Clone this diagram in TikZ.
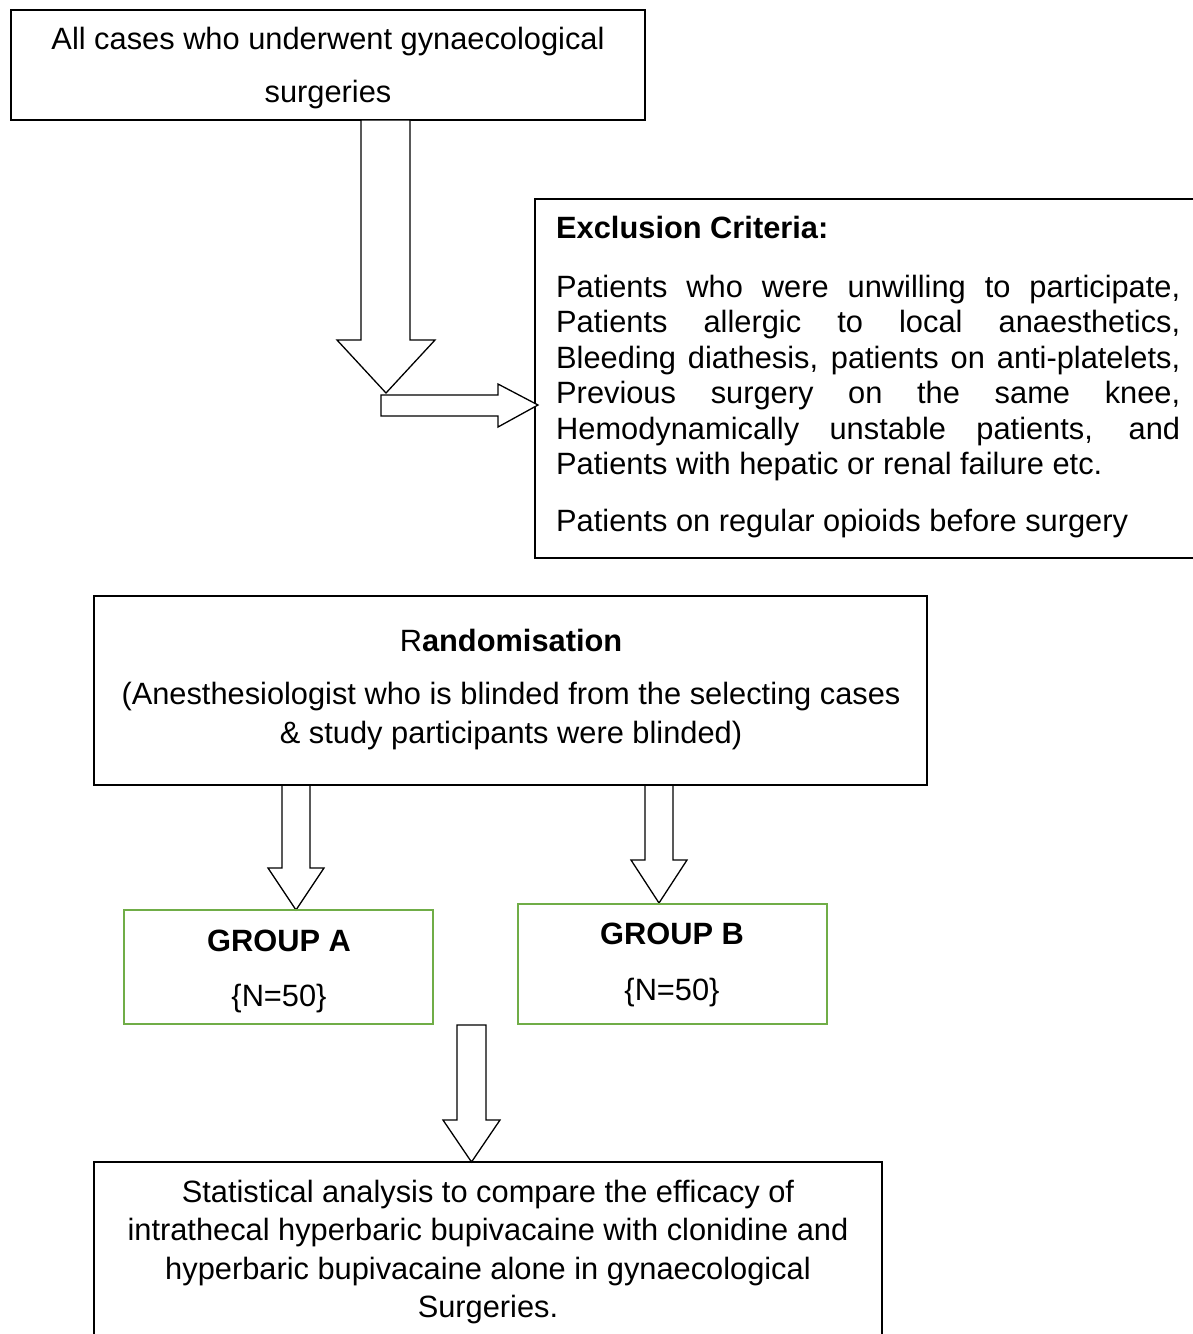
\documentclass[tikz,border=0pt]{standalone}
\usepackage{fontspec}
\setmainfont{Liberation Sans}
\definecolor{grn}{RGB}{112,173,71}
\newcommand\fsz{\fontsize{30.8}{35.5}\selectfont}
\begin{document}
\begin{tikzpicture}[x=1pt,y=-1pt,
  box/.style={draw, line width=1.3pt, inner sep=0pt},
  gbox/.style={draw=grn, line width=2.2pt, inner sep=0pt, minimum width=309pt},
  arr/.style={draw, line width=1.3pt, fill=white, line join=miter},
  edge/.style={draw, line width=1.3pt},
  txt/.style={inner sep=0pt, anchor=base, font=\fsz}]
\useasboundingbox[fill=white] (0,0) rectangle (1193,1334);

% top box
\node[box, minimum width=634pt, minimum height=110pt] (top) at (328,65) {};
\node[txt] (toptext) at (328,49) {\parbox[t]{620pt}{\centering\fontsize{30.8}{53}\selectfont All cases who underwent gynaecological\\surgeries}};

% exclusion box (open on the right)
\coordinate (exne) at (1195,199);
\coordinate (exnw) at (535,199);
\coordinate (exsw) at (535,558);
\coordinate (exse) at (1195,558);
\draw[edge] (exne) -- (exnw) -- (exsw) -- (exse);
\node[txt, anchor=base west] (extitle) at (556,238) {\textbf{Exclusion Criteria:}};
\node[txt, anchor=base west] (exbody) at (556,297) {\parbox[t]{624pt}{\fsz
\makebox[624pt][s]{Patients who were unwilling to participate,}\\
\makebox[624pt][s]{Patients allergic to local anaesthetics,}\\
\makebox[624pt][s]{Bleeding diathesis, patients on anti-platelets,}\\
\makebox[624pt][s]{Previous surgery on the same knee,}\\
\makebox[624pt][s]{Hemodynamically unstable patients, and}\\
Patients with hepatic or renal failure etc.}};
\node[txt, anchor=base west] (exlast) at (556,531) {Patients on regular opioids before surgery};

% arrows from top box
\draw[arr] (361,120) -- (361,340) -- (337,340) -- (386,393) -- (435,340) -- (410,340) -- (410,120) -- cycle;
\draw[arr] (381,395) -- (498,395) -- (498,384) -- (538,405) -- (498,427) -- (498,416) -- (381,416) -- cycle;

% randomisation
\node[box, minimum width=833pt, minimum height=189pt] (rand) at (510.5,690.5) {};
\node[txt] (randtitle) at (511,651) {R\textbf{andomisation}};
\node[txt] (randbody) at (511,704) {\parbox[t]{830pt}{\centering\fontsize{30.8}{39}\selectfont (Anesthesiologist who is blinded from the selecting cases\\\& study participants were blinded)}};

% arrows to groups
\draw[arr] (282,786) -- (282,868) -- (268,868) -- (296,910) -- (324,868) -- (310,868) -- (310,786);
\draw[arr] (645,786) -- (645,860) -- (631,860) -- (659,903) -- (687,860) -- (673,860) -- (673,786);

% groups
\node[gbox, minimum height=114pt] (ga) at (278.5,967) {};
\node[txt] (gatitle) at (279,951) {\textbf{GROUP A}};
\node[txt] (gan) at (279,1006) {\{N=50\}};
\node[gbox, minimum height=120pt] (gb) at (672.5,964) {};
\node[txt] (gbtitle) at (672,944) {\textbf{GROUP B}};
\node[txt] (gbn) at (672,1000) {\{N=50\}};

% arrow to bottom
\draw[arr] (457,1025) -- (457,1120) -- (443,1120) -- (471.5,1162) -- (500,1120) -- (486,1120) -- (486,1025) -- cycle;

% bottom box (open at bottom)
\coordinate (bsw) at (94,1336);
\coordinate (bnw) at (94,1162);
\coordinate (bne) at (882,1162);
\coordinate (bse) at (882,1336);
\draw[edge] (bsw) -- (bnw) -- (bne) -- (bse);
\node[txt] (btext) at (488,1202) {\parbox[t]{780pt}{\centering\fontsize{30.8}{38.5}\selectfont Statistical analysis to compare the efficacy of\\intrathecal hyperbaric bupivacaine with clonidine and\\hyperbaric bupivacaine alone in gynaecological\\Surgeries.}};
\end{tikzpicture}
\end{document}
